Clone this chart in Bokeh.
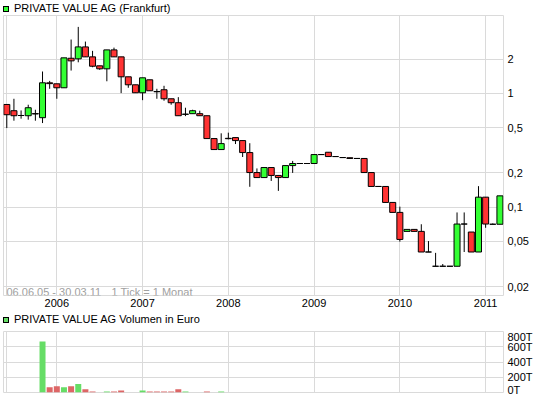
import pandas as pd
from bokeh.plotting import figure
from bokeh.models import (ColumnDataSource, FixedTicker, CustomJSTickFormatter, Label, Div)
from bokeh.layouts import column
from bokeh.embed import file_html
from bokeh.resources import INLINE

# ---------------- data (monthly, Frankfurt) ----------------
months = [str(p) for p in pd.period_range("2005-06", "2011-03", freq="M")]

opens = [
    0.80, 0.705, 0.64, 0.637, 0.665, 0.612, 1.24, 1.216, 1.122, 2.04,
    2.016, 2.568, 2.098, 1.75, 1.647, 2.417, 2.098, 1.401, 1.192, 1.014,
    1.319, 1.041, 1.078, 0.898, 0.829, 0.655, 0.664, 0.664, 0.637, 0.401,
    0.321, 0.403, 0.409, 0.385, 0.302, 0.2015, 0.182, 0.223, 0.19, 0.182,
    0.232, 0.242, 0.242, 0.242, 0.29, 0.304, 0.2786, 0.273, 0.272, 0.268,
    0.268, 0.2015, 0.152, 0.152, 0.110, 0.0899, 0.0612, 0.0637, 0.0612, 0.0403,
    0.0302, 0.0302, 0.0302, 0.0302, 0.071, 0.0604, 0.0403, 0.1224, 0.0707, 0.0707]

highs = [
    0.80, 0.898, 0.709, 0.796, 0.719, 1.56, 1.29, 1.216, 2.057, 2.98,
    3.85, 2.86, 2.37, 1.75, 2.417, 2.53, 2.098, 1.401, 1.192, 1.373,
    1.319, 1.099, 1.168, 0.898, 0.928, 0.749, 0.719, 0.705, 0.637, 0.401,
    0.446, 0.452, 0.409, 0.385, 0.365, 0.219, 0.223, 0.223, 0.19, 0.232,
    0.255, 0.242, 0.242, 0.29, 0.29, 0.304, 0.2786, 0.273, 0.272, 0.268,
    0.268, 0.2015, 0.152, 0.152, 0.110, 0.101, 0.0637, 0.0637, 0.0707, 0.0503,
    0.0396, 0.0316, 0.0302, 0.0898, 0.0898, 0.0604, 0.153, 0.1224, 0.0719, 0.1257]

lows = [
    0.496, 0.576, 0.60, 0.588, 0.576, 0.549, 1.099, 0.898, 1.122, 1.59,
    1.88, 2.098, 1.70, 1.614, 1.28, 2.098, 1.007, 1.122, 1.014, 0.873,
    1.056, 0.898, 0.863, 0.796, 0.637, 0.632, 0.664, 0.637, 0.401, 0.321,
    0.321, 0.395, 0.359, 0.276, 0.151, 0.182, 0.182, 0.170, 0.139, 0.182,
    0.20, 0.242, 0.242, 0.242, 0.29, 0.2786, 0.2786, 0.273, 0.268, 0.268,
    0.2015, 0.152, 0.152, 0.110, 0.0899, 0.0497, 0.0612, 0.0612, 0.0403, 0.0403,
    0.0302, 0.0302, 0.0302, 0.0302, 0.0403, 0.0403, 0.0403, 0.0658, 0.0707, 0.0707]

closes = [
    0.65, 0.637, 0.64, 0.749, 0.66, 1.241, 1.22, 1.122, 2.057, 1.935,
    2.568, 2.098, 1.736, 1.647, 2.417, 2.098, 1.401, 1.192, 1.014, 1.373,
    1.056, 1.035, 0.898, 0.829, 0.637, 0.658, 0.705, 0.637, 0.401, 0.321,
    0.362, 0.400, 0.385, 0.302, 0.2015, 0.182, 0.223, 0.19, 0.182, 0.232,
    0.242, 0.242, 0.242, 0.29, 0.29, 0.2786, 0.2786, 0.273, 0.268, 0.268,
    0.2015, 0.152, 0.152, 0.110, 0.0899, 0.052, 0.0637, 0.0612, 0.0403, 0.0403,
    0.0302, 0.0302, 0.0302, 0.071, 0.071, 0.0403, 0.1224, 0.071, 0.0707, 0.1257]

# volume in thousand euro
volumes_t = [
    0, 0, 0, 0, 0, 670, 68, 82, 68, 82,
    110, 41, 14, 0, 14, 14, 27, 0, 0, 27,
    14, 14, 14, 14, 41, 14, 0, 0, 14, 0,
    14, 0, 0, 0, 0, 0, 0, 0, 0, 0,
    0, 0, 0, 0, 0, 0, 0, 0, 0, 0,
    0, 0, 0, 0, 0, 0, 0, 0, 0, 0,
    0, 0, 0, 0, 0, 0, 0, 0, 0, 0]

year_labels = ["2006", "2007", "2008", "2009", "2010", "2011"]
price_ticks = [0.02, 0.05, 0.1, 0.2, 0.5, 1, 2]
volume_ticks = [0, 200, 400, 600, 800]

title_main = "PRIVATE VALUE AG (Frankfurt)"
title_vol = "PRIVATE VALUE AG Volumen in Euro"
footer_range = "06.06.05 - 30.03.11"
footer_tick = "1 Tick = 1 Monat"

# ---------------- styling ----------------
FONT = "Liberation Sans"
GREEN = "#33ff33"
RED = "#ff3333"
VGREEN = "#66dd66"
VRED = "#dd6666"
GRID = "#dadada"

idx = list(range(len(months)))
year_idx = [months.index(y + "-01") for y in year_labels]
up = [c >= o for o, c in zip(opens, closes)]
X_START, X_END = -0.46, len(months) - 0.5
Y_START, Y_END = 0.0167, 4.85


def subset(mask):
    ii = [i for i in idx if mask[i]]
    return ColumnDataSource(dict(
        x=ii,
        top=[max(opens[i], closes[i]) for i in ii],
        bottom=[min(opens[i], closes[i]) for i in ii],
        high=[highs[i] for i in ii],
        low=[lows[i] for i in ii],
        vol=[volumes_t[i] for i in ii],
    ))


src_up = subset(up)
src_dn = subset([not u for u in up])


def style(p, yticks):
    p.outline_line_color = GRID
    p.background_fill_color = "white"
    p.border_fill_color = "white"
    p.xgrid.ticker = FixedTicker(ticks=[0] + year_idx)
    p.ygrid.ticker = FixedTicker(ticks=yticks)
    p.xgrid.grid_line_color = GRID
    p.ygrid.grid_line_color = GRID
    for ax in p.axis:
        ax.axis_line_color = None
        ax.major_tick_line_color = None
        ax.minor_tick_line_color = None
        ax.major_tick_out = 0
        ax.major_tick_in = 0
        ax.minor_tick_out = 0
        ax.minor_tick_in = 0
        ax.major_label_text_font = FONT
        ax.major_label_text_font_size = "11px"
        ax.major_label_text_color = "#000000"


def legend_div(label, color, height, pad_top):
    html = (
        f"<div style=\"display:flex;align-items:center;height:14px;padding-left:3px;"
        f"padding-top:{pad_top}px;font-family:'{FONT}';font-size:11px;color:#000;"
        f"white-space:nowrap;\">"
        f"<span style=\"display:inline-block;width:6px;height:6px;background:{color};"
        f"border:1px solid #000;margin-right:5px;\"></span>{label}</div>"
    )
    return Div(text=html, width=545, height=height, margin=0)


# ---------------- price chart ----------------
p = figure(frame_width=500, frame_height=280, y_axis_type="log", title=None,
           x_range=(X_START, X_END), y_range=(Y_START, Y_END),
           y_axis_location="right", output_backend="svg", toolbar_location=None,
           min_border_left=3, min_border_right=42, min_border_top=1, min_border_bottom=16)
style(p, price_ticks)

p.xaxis.ticker = FixedTicker(ticks=year_idx)
p.xaxis.major_label_overrides = {i: y for i, y in zip(year_idx, year_labels)}
p.xaxis.major_label_standoff = 3
p.yaxis.ticker = FixedTicker(ticks=price_ticks)
p.yaxis.formatter = CustomJSTickFormatter(code="return tick.toString().replace('.', ',');")
p.yaxis.major_label_standoff = 4

for src in (src_up, src_dn):
    p.segment(x0="x", y0="high", x1="x", y1="low", source=src, line_color="black", line_width=1)
p.vbar(x="x", top="top", bottom="bottom", width=0.84, source=src_up,
       fill_color=GREEN, line_color="black", line_width=1)
p.vbar(x="x", top="top", bottom="bottom", width=0.84, source=src_dn,
       fill_color=RED, line_color="black", line_width=1)

p.add_layout(Label(x=X_START, y=Y_START, x_offset=3, y_offset=4, text=footer_range,
                   text_font=FONT, text_font_size="11px", text_color="#a0a0a0",
                   text_baseline="alphabetic"))
p.add_layout(Label(x=X_START, y=Y_START, x_offset=108, y_offset=4, text=footer_tick,
                   text_font=FONT, text_font_size="11px", text_color="#a0a0a0",
                   text_baseline="alphabetic"))

# ---------------- volume chart ----------------
v = figure(frame_width=500, frame_height=61, x_range=p.x_range, y_range=(0, 800), title=None,
           y_axis_location="right", output_backend="svg", toolbar_location=None,
           min_border_left=3, min_border_right=42, min_border_top=1, min_border_bottom=3)
style(v, volume_ticks)
v.xaxis.visible = False
v.yaxis.ticker = FixedTicker(ticks=volume_ticks)
v.yaxis.formatter = CustomJSTickFormatter(code="return tick + 'T';")
v.yaxis.major_label_standoff = 4

v.vbar(x="x", top="vol", width=0.84, source=src_up, fill_color=VGREEN, line_color=None)
v.vbar(x="x", top="vol", width=0.84, source=src_dn, fill_color=VRED, line_color=None)

layout = column(legend_div(title_main, GREEN, 14, 0), p,
                legend_div(title_vol, VGREEN, 19, 4), v)
open("out.html", "w").write(file_html(layout, INLINE))
